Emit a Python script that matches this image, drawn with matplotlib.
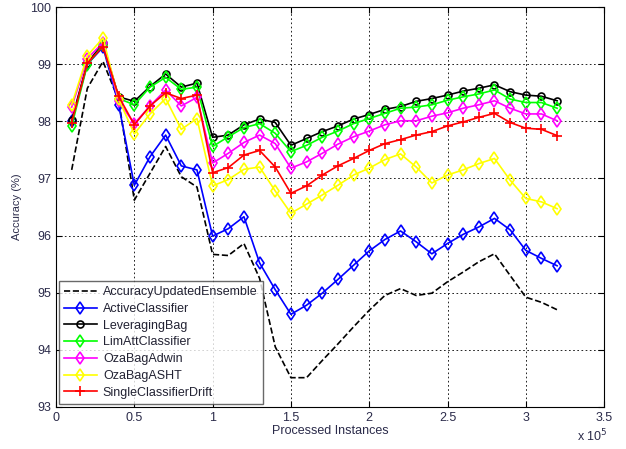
import matplotlib
matplotlib.use("Agg")
import matplotlib.pyplot as plt
import numpy as np

plt.rcParams['font.family'] = ['Liberation Sans', 'DejaVu Sans']

x = np.arange(1, 33) * 0.1  # in units of 1e5

aue = [97.15, 98.58, 99.05, 98.37, 96.62, 97.09, 97.56, 97.03, 96.85, 95.67,
       95.65, 95.86, 95.25, 94.05, 93.51, 93.51, 93.81, 94.10, 94.40, 94.69,
       94.95, 95.07, 94.95, 94.99, 95.19, 95.36, 95.54, 95.68, 95.30, 94.92,
       94.83, 94.70]
active = [98.00, 99.00, 99.30, 98.29, 96.88, 97.38, 97.76, 97.22, 97.15, 95.99,
          96.12, 96.33, 95.52, 95.05, 94.62, 94.78, 94.99, 95.23, 95.48, 95.73,
          95.93, 96.08, 95.89, 95.68, 95.86, 96.02, 96.15, 96.30, 96.10, 95.74,
          95.60, 95.47]
leveraging = [98.03, 99.02, 99.37, 98.43, 98.35, 98.61, 98.83, 98.60, 98.67, 97.72,
              97.76, 97.94, 98.04, 97.98, 97.58, 97.70, 97.82, 97.92, 98.04, 98.12,
              98.21, 98.26, 98.35, 98.40, 98.46, 98.53, 98.58, 98.64, 98.52, 98.46,
              98.44, 98.36]
limatt = [97.92, 98.99, 99.34, 98.40, 98.29, 98.60, 98.77, 98.56, 98.60, 97.56,
          97.73, 97.89, 97.96, 97.79, 97.47, 97.58, 97.72, 97.83, 97.96, 98.05,
          98.14, 98.23, 98.25, 98.29, 98.37, 98.43, 98.48, 98.55, 98.39, 98.33,
          98.33, 98.23]
adwin = [98.25, 99.10, 99.38, 98.35, 97.96, 98.27, 98.55, 98.27, 98.42, 97.27,
         97.44, 97.63, 97.76, 97.61, 97.18, 97.29, 97.44, 97.60, 97.73, 97.83,
         97.94, 98.01, 98.01, 98.09, 98.15, 98.23, 98.29, 98.36, 98.23, 98.13,
         98.13, 98.01]
asht = [98.29, 99.15, 99.46, 98.39, 97.78, 98.13, 98.40, 97.86, 98.05, 96.87,
        96.98, 97.16, 97.20, 96.78, 96.39, 96.55, 96.71, 96.88, 97.06, 97.18,
        97.33, 97.43, 97.20, 96.92, 97.06, 97.15, 97.26, 97.35, 96.97, 96.65,
        96.59, 96.47]
scd = [97.98, 99.02, 99.31, 98.44, 97.94, 98.27, 98.50, 98.40, 98.46, 97.10,
       97.19, 97.41, 97.49, 97.20, 96.74, 96.87, 97.06, 97.22, 97.35, 97.49,
       97.61, 97.68, 97.76, 97.82, 97.92, 97.99, 98.07, 98.14, 97.98, 97.88,
       97.86, 97.75]

tick_color = '#2b2b4a'

fig = plt.figure(figsize=(6.26, 4.49), dpi=100)
ax = fig.add_axes([0.0895, 0.094, 0.8755, 0.890])

ax.plot(x, aue, '--', color='black', lw=1.2, label='AccuracyUpdatedEnsemble')
ax.plot(x, active, '-', color='blue', lw=1.2, marker='d', ms=6, mfc='none', mew=1.2,
        label='ActiveClassifier')
ax.plot(x, leveraging, '-', color='black', lw=1.2, marker='o', ms=5, mfc='none', mew=1.2,
        label='LeveragingBag')
ax.plot(x, limatt, '-', color='#00ff00', lw=1.2, marker='d', ms=6, mfc='none', mew=1.2,
        label='LimAttClassifier')
ax.plot(x, adwin, '-', color='magenta', lw=1.2, marker='d', ms=6, mfc='none', mew=1.2,
        label='OzaBagAdwin')
ax.plot(x, asht, '-', color='yellow', lw=1.2, marker='d', ms=6, mfc='none', mew=1.2,
        label='OzaBagASHT')
ax.plot(x, scd, '-', color='red', lw=1.2, marker='+', ms=7, mew=1.2,
        label='SingleClassifierDrift')

ax.set_xlim(0, 3.5)
ax.set_ylim(93, 100)
ax.set_xticks(np.arange(0, 3.51, 0.5))
ax.set_xticklabels(['0', '0.5', '1', '1.5', '2', '2.5', '3', '3.5'])
ax.set_yticks(range(93, 101))
ax.tick_params(labelsize=9, direction='in', length=4, labelcolor=tick_color)
ax.tick_params(top=True, right=True)
ax.grid(True, color='black', linestyle=(0, (2, 3)), lw=0.6)
ax.set_xlabel('Processed Instances', fontsize=9, labelpad=1, color=tick_color)
ax.set_ylabel('Accuracy (%)', fontsize=8, labelpad=6, color=tick_color)
fig.text(0.922, 0.018, r'x 10$^5$', fontsize=9, color=tick_color)

leg = ax.legend(loc='lower left', fontsize=9, frameon=True, fancybox=False,
                edgecolor='#444444', borderaxespad=0.25, handlelength=2.6,
                labelspacing=0.38, borderpad=0.4, handletextpad=0.5)
leg.get_frame().set_linewidth(1.0)
for t in leg.get_texts():
    t.set_color('#222233')

fig.savefig('out.png', dpi=100)
